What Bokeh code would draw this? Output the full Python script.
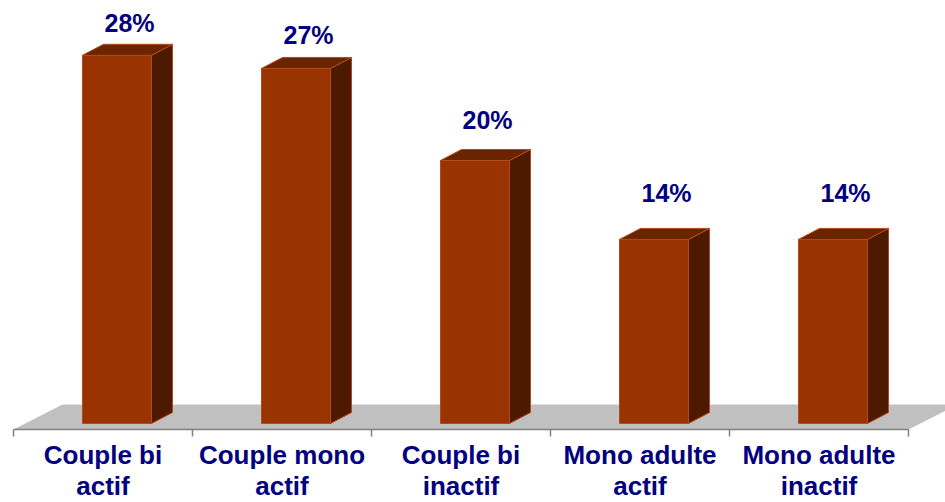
from bokeh.plotting import figure
from bokeh.models import Range1d, ColumnDataSource
from bokeh.core.properties import value
from bokeh.embed import file_html
from bokeh.resources import INLINE

# ---- data ----
categories = ["Couple bi\nactif", "Couple mono\nactif", "Couple bi\ninactif",
              "Mono adulte\nactif", "Mono adulte\ninactif"]
percentages = [28, 27, 20, 14, 14]
value_labels = ["28%", "27%", "20%", "14%", "14%"]

# ---- geometry / style (pixels per unit) ----
XS = 179.0     # px per category
YS = 13.15     # px per percent
W, H = 945, 502
OX, OY = 0, 0  # page offset of the figure

FRONT_COLOR = "#993300"
TOP_COLOR = "#6b2400"
SIDE_COLOR = "#4d1a00"
EDGE_COLOR = "#b5491a"
FLOOR_COLOR = "#c0c0c0"
AXIS_COLOR = "#808080"
TEXT_COLOR = "#000080"
FONT = "Liberation Sans"

bar_off = 69 / XS       # front face left offset inside category
bar_w = 69 / XS         # front face width
dx = 21 / XS            # bar depth (x)
dy = 11 / YS            # bar depth (y)
floor_front = -6 / YS
floor_back = 19 / YS
floor_dx = 49 / XS
tick_len = 7 / YS
LABEL_SCALE = 0.923
LABEL_LIFT = 3.88 + 10 / YS
CAT_LINE1 = 25 / YS     # below floor front
CAT_LINE2 = 56 / YS

n = len(categories)

x_start = (OX - 13) / XS
y_end = (423 - OY) / YS

p = figure(width=W, height=H, output_backend="svg", toolbar_location=None,
           x_range=Range1d(x_start, x_start + W / XS),
           y_range=Range1d(y_end - H / YS, y_end),
           min_border=0, x_axis_type=None, y_axis_type=None)
p.grid.visible = False
p.outline_line_color = None
p.background_fill_color = "white"
p.border_fill_color = "white"

# floor
p.patch([0, n, n + floor_dx, floor_dx],
        [floor_front, floor_front, floor_back, floor_back],
        fill_color=FLOOR_COLOR, line_color=None)
# axis line and ticks
p.segment(x0=[0], y0=[floor_front], x1=[n], y1=[floor_front],
          line_color=AXIS_COLOR, line_width=1.5)
p.segment(x0=list(range(n + 1)), y0=[floor_front] * (n + 1),
          x1=list(range(n + 1)), y1=[floor_front - tick_len] * (n + 1),
          line_color=AXIS_COLOR, line_width=1.5)

# bars
lefts = [i + bar_off for i in range(n)]
rights = [l + bar_w for l in lefts]
p.quad(left=lefts, right=rights, bottom=[0] * n, top=percentages,
       fill_color=FRONT_COLOR, line_color=EDGE_COLOR, line_width=1)
side_xs = [[r, r + dx, r + dx, r] for r in rights]
side_ys = [[0, dy, v + dy, v] for v in percentages]
p.patches(side_xs, side_ys, fill_color=SIDE_COLOR, line_color=EDGE_COLOR, line_width=1)
top_xs = [[l, r, r + dx, l + dx] for l, r in zip(lefts, rights)]
top_ys = [[v, v, v + dy, v + dy] for v in percentages]
p.patches(top_xs, top_ys, fill_color=TOP_COLOR, line_color=EDGE_COLOR, line_width=1)

# value labels
lab_src = ColumnDataSource(dict(
    x=[l + (bar_w + dx) / 2 + 2 / XS for l in lefts],
    y=[LABEL_SCALE * v + LABEL_LIFT for v in percentages],
    t=value_labels))
p.text(x="x", y="y", text="t", source=lab_src, text_align="center",
       text_baseline="alphabetic", text_font=value(FONT), text_font_style="bold",
       text_font_size="25px", text_color=TEXT_COLOR)

# category labels (two lines)
line1 = [c.split("\n")[0] for c in categories]
line2 = [c.split("\n")[1] for c in categories]
centers = [i + 0.5 for i in range(n)]
p.text(x=centers, y=[floor_front - CAT_LINE1] * n, text=line1, text_align="center",
       text_baseline="alphabetic", text_font=value(FONT), text_font_style="bold",
       text_font_size="26px", text_color=TEXT_COLOR)
p.text(x=centers, y=[floor_front - CAT_LINE2] * n, text=line2, text_align="center",
       text_baseline="alphabetic", text_font=value(FONT), text_font_style="bold",
       text_font_size="26px", text_color=TEXT_COLOR)

open("out.html", "w").write(file_html(p, INLINE))
